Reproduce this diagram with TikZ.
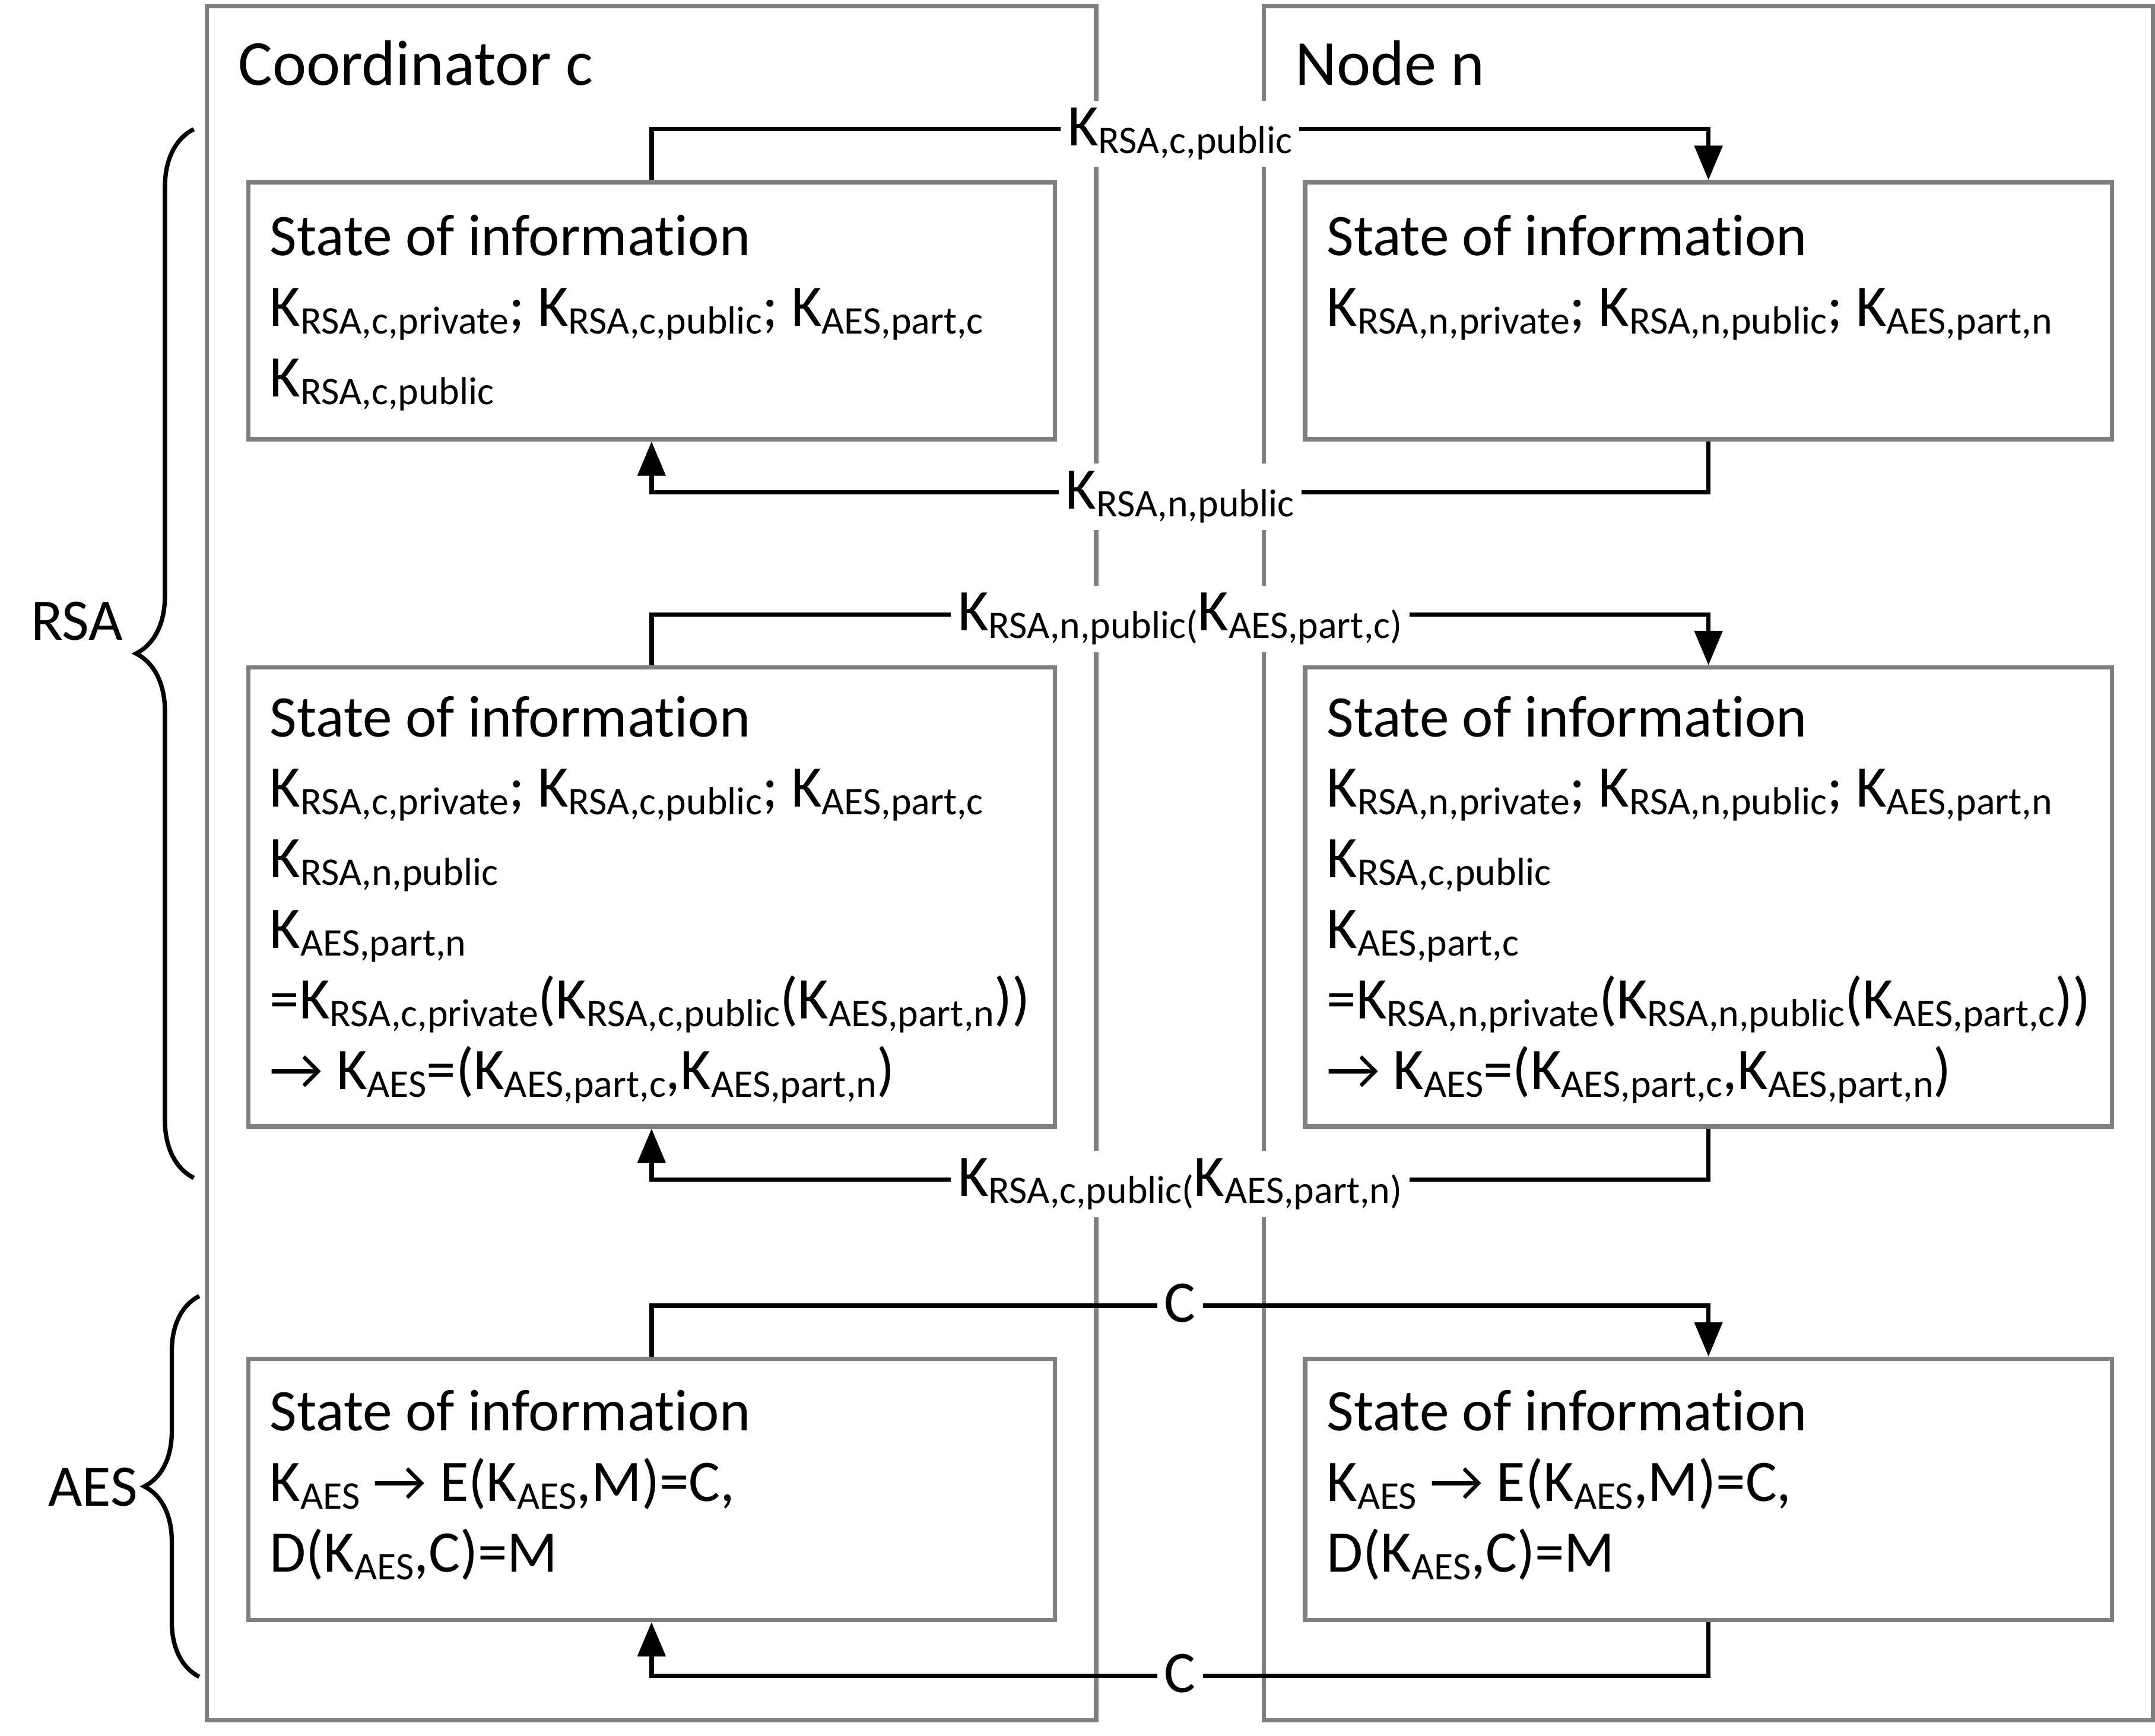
\documentclass[tikz,border=0pt]{standalone}
\usepackage{fontspec}
\setmainfont{Carlito}[Ligatures=NoCommon]
\usepackage{tikz}
\usetikzlibrary{positioning,arrows.meta,decorations.pathreplacing}
\definecolor{boxgray}{RGB}{127,127,127}
\newcommand{\Ksub}[1]{K\raisebox{-0.13em}{\fontsize{8.1}{9}\selectfont #1}}

\begin{document}
\begin{tikzpicture}[thick,
    outerbox/.style={draw=boxgray, line width=0.9pt, minimum width=6.47cm, minimum height=12.47cm, anchor=north west, inner sep=0},
    infobox/.style={draw=boxgray, line width=0.9pt, minimum width=5.87cm, anchor=north west, inner sep=0},
    infotext/.style={align=left, inner sep=0, font=\fontsize{12.2}{14.6}\selectfont},
    headtext/.style={anchor=base west, inner sep=0, font=\fontsize{13.3}{16}\selectfont},
    phase/.style={inner sep=0, font=\fontsize{12.2}{15}\selectfont},
    link/.style={line width=0.9pt, -{Triangle[length=0.25cm,width=0.2cm]}},
    msg/.style={fill=white, anchor=base, yshift=-0.12cm, inner sep=1.5pt, font=\fontsize{12.2}{15}\selectfont},
    bracket/.style={line width=0.9pt, decorate, decoration={brace, amplitude=#1}}]
    \useasboundingbox (0,0) rectangle (15.68,-12.63);
    %
    \node[outerbox] (cframe) at (1.49,-0.03) {};
    \node[outerbox] (nframe) at (9.18,-0.03) {};
    \node[headtext] (ctitle) at (1.72,-0.62) {Coordinator c};
    \node[headtext] (ntitle) at (9.41,-0.62) {Node n};
    %
    \node[infobox, minimum height=1.87cm] (cstate1) at (1.79,-1.31) {};
    \node[infobox, minimum height=3.34cm] (cstate2) at (1.79,-4.84) {};
    \node[infobox, minimum height=1.90cm] (cstate3) at (1.79,-9.87) {};
    \node[infobox, minimum height=1.87cm] (nstate1) at (9.48,-1.31) {};
    \node[infobox, minimum height=3.34cm] (nstate2) at (9.48,-4.84) {};
    \node[infobox, minimum height=1.90cm] (nstate3) at (9.48,-9.87) {};
    %
    \node[infotext, below right=0.24cm and 0.16cm of cstate1.north west] (ctext1) {State of information\\
        \Ksub{RSA,c,private}; \Ksub{RSA,c,public}; \Ksub{AES,part,c}\\
        \Ksub{RSA,c,public}};
    \node[infotext, below right=0.24cm and 0.16cm of nstate1.north west] (ntext1) {State of information\\
        \Ksub{RSA,n,private}; \Ksub{RSA,n,public}; \Ksub{AES,part,n}};
    \node[infotext, below right=0.21cm and 0.16cm of cstate2.north west] (ctext2) {State of information\\
        \Ksub{RSA,c,private}; \Ksub{RSA,c,public}; \Ksub{AES,part,c}\\
        \Ksub{RSA,n,public}\\
        \Ksub{AES,part,n}\\
        =\Ksub{RSA,c,private}(\Ksub{RSA,c,public}(\Ksub{AES,part,n}))\\
        → \Ksub{AES}=(\Ksub{AES,part,c},\Ksub{AES,part,n})};
    \node[infotext, below right=0.21cm and 0.16cm of nstate2.north west] (ntext2) {State of information\\
        \Ksub{RSA,n,private}; \Ksub{RSA,n,public}; \Ksub{AES,part,n}\\
        \Ksub{RSA,c,public}\\
        \Ksub{AES,part,c}\\
        =\Ksub{RSA,n,private}(\Ksub{RSA,n,public}(\Ksub{AES,part,c}))\\
        → \Ksub{AES}=(\Ksub{AES,part,c},\Ksub{AES,part,n})};
    \node[infotext, below right=0.23cm and 0.16cm of cstate3.north west] (ctext3) {State of information\\
        \Ksub{AES} → E(\Ksub{AES},M)=C,\\
        D(\Ksub{AES},C)=M};
    \node[infotext, below right=0.23cm and 0.16cm of nstate3.north west] (ntext3) {State of information\\
        \Ksub{AES} → E(\Ksub{AES},M)=C,\\
        D(\Ksub{AES},C)=M};
    %
    \draw[link] (cstate1.north) -- ++(0,0.37) -| node[msg, pos=0.25] (m1) {\Ksub{RSA,c,public}} (nstate1.north);
    \draw[link] (nstate1.south) -- ++(0,-0.37) -| node[msg, pos=0.25] (m2) {\Ksub{RSA,n,public}} (cstate1.south);
    \draw[link] (cstate2.north) -- ++(0,0.37) -| node[msg, pos=0.25] (m3) {\Ksub{RSA,n,public(}\Ksub{AES,part,c)}} (nstate2.north);
    \draw[link] (nstate2.south) -- ++(0,-0.37) -| node[msg, pos=0.25] (m4) {\Ksub{RSA,c,public(}\Ksub{AES,part,n)}} (cstate2.south);
    \draw[link] (cstate3.north) -- ++(0,0.37) -| node[msg, pos=0.25] (m5) {C} (nstate3.north);
    \draw[link] (nstate3.south) -- ++(0,-0.39) -| node[msg, pos=0.25] (m6) {C} (cstate3.south);
    %
    \draw[bracket=0.42cm] (1.41,-8.57) -- (1.41,-0.94);
    \node[phase] (rsa) at (0.56,-4.52) {RSA};
    \draw[bracket=0.40cm] (1.45,-12.20) -- (1.45,-9.43);
    \node[phase] (aes) at (0.675,-10.82) {AES};
    %
\end{tikzpicture}
\end{document}
